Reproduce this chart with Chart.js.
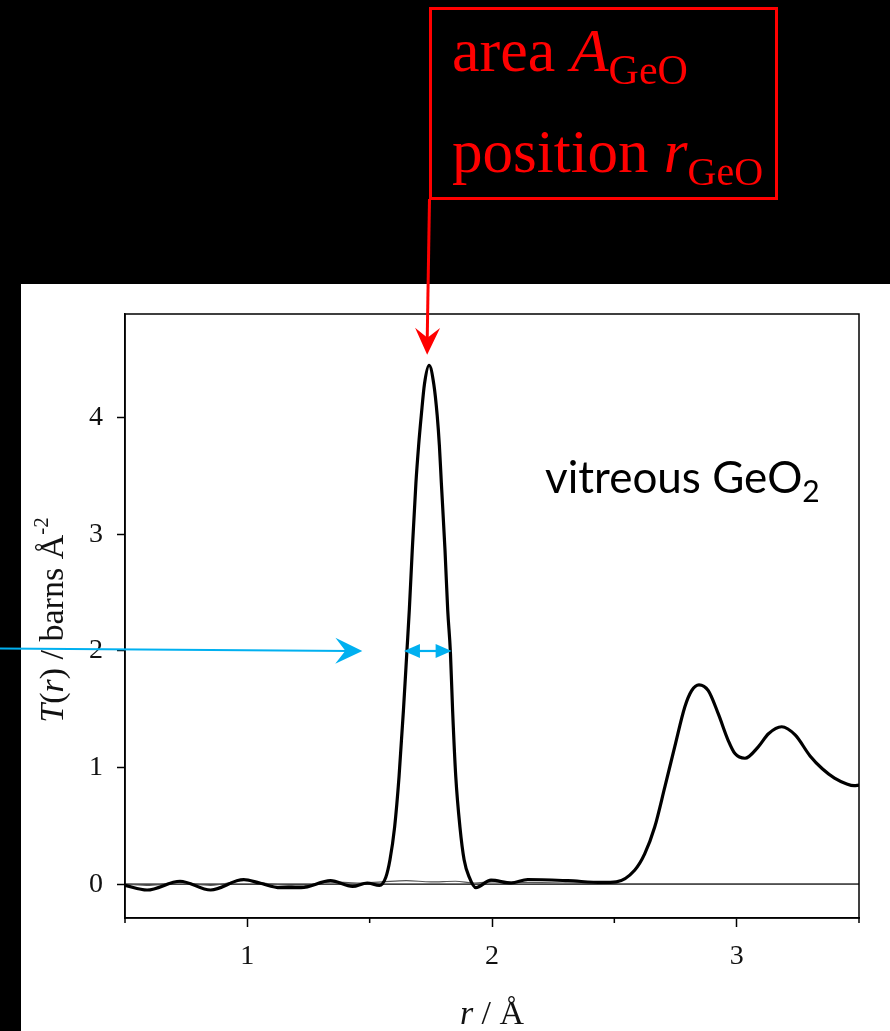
<!DOCTYPE html>
<html>
<head>
<meta charset="utf-8">
<script src="https://cdn.jsdelivr.net/npm/chart.js@4.4.1/dist/chart.umd.min.js"></script>
<style>
  html, body { margin: 0; padding: 0; background: #000; }
  #wrap { width: 890px; height: 1031px; }
</style>
</head>
<body>
<div id="wrap"><canvas id="tr" width="890" height="1031"></canvas></div>
<script>
// total correlation function T(r) of vitreous GeO2
const rMain = [0.50, 0.59, 0.725, 0.85, 0.985, 1.05, 1.135, 1.22, 1.34, 1.43, 1.49, 1.54,
  1.566, 1.583, 1.602, 1.620, 1.638, 1.652, 1.662, 1.674, 1.689, 1.700, 1.711, 1.724, 1.743,
  1.762, 1.776, 1.785, 1.793, 1.808, 1.819, 1.830, 1.839, 1.852, 1.869, 1.886, 1.907, 1.934,
  1.996, 2.078, 2.146, 2.31, 2.45, 2.508, 2.583, 2.624, 2.665, 2.706, 2.747, 2.788,
  2.816, 2.846, 2.884, 2.925, 2.966, 2.993, 3.034, 3.089, 3.130, 3.184, 3.239, 3.30,
  3.35, 3.40, 3.45, 3.48, 3.50];
const tMain = [-0.01, -0.05, 0.025, -0.05, 0.04, 0.01, -0.03, -0.03, 0.03, -0.02, 0.01, -0.01,
  0.06, 0.21, 0.49, 0.92, 1.49, 1.99, 2.35, 2.86, 3.44, 3.76, 4.02, 4.29, 4.45,
  4.29, 4.02, 3.76, 3.44, 2.86, 2.35, 1.99, 1.49, 0.92, 0.49, 0.21, 0.06, -0.03,
  0.035, 0.01, 0.04, 0.03, 0.015, 0.02, 0.12, 0.26, 0.49, 0.83, 1.18, 1.52,
  1.66, 1.71, 1.66, 1.46, 1.23, 1.12, 1.08, 1.18, 1.29, 1.35, 1.28, 1.10,
  0.99, 0.91, 0.86, 0.845, 0.85];

// fitted peak residual (thin line)
const rFit = [0.50, 0.60, 0.72, 0.85, 0.99, 1.10, 1.22, 1.34, 1.45, 1.55, 1.65, 1.75,
  1.85, 1.93, 2.00, 2.15, 2.30, 2.45, 2.60, 3.50];
const tFit = [0.0, -0.01, 0.015, -0.01, 0.03, 0.0, -0.015, 0.02, 0.01, 0.02, 0.03, 0.02,
  0.025, 0.01, 0.02, 0.015, 0.01, 0.005, 0.0, 0.0];

const rZero = [0.5, 3.5];
const tZero = [0, 0];

const xTicks = [1, 2, 3];
const xMinor = [0.5, 1.5, 2.5, 3.5];
const yTicks = [0, 1, 2, 3, 4];

// annotation anchors in data units
const arrowTip = { r: 1.735, t: 4.54 };
const widthLeft = 1.64, widthRight = 1.835, widthLevel = 2.0;
const pointerTip = { r: 1.47, t: 2.0 };

const SERIF = '"Liberation Serif", "Times New Roman", serif';
const SANS = 'Lato, "Open Sans", sans-serif';
const RED = '#ff0000';
const BLUE = '#00b0f0';

const toPoints = (xs, ys) => xs.map((x, i) => ({ x: x, y: ys[i] }));

function barbHead(ctx, x, y, angle, len, hw, notch) {
  ctx.save();
  ctx.translate(x, y);
  ctx.rotate(angle);
  ctx.beginPath();
  ctx.moveTo(0, 0);
  ctx.lineTo(-len, hw);
  ctx.lineTo(-len + notch, 0);
  ctx.lineTo(-len, -hw);
  ctx.closePath();
  ctx.fill();
  ctx.restore();
}

// draws runs of text with different styles, left to right from x
function drawRuns(ctx, runs, x, y) {
  runs.forEach(run => {
    ctx.font = run.font;
    ctx.fillText(run.text, x, y + (run.dy || 0));
    x += ctx.measureText(run.text).width;
  });
}
function runsWidth(ctx, runs) {
  let w = 0;
  runs.forEach(run => { ctx.font = run.font; w += ctx.measureText(run.text).width; });
  return w;
}

const backdrop = {
  id: 'backdrop',
  beforeDraw(chart) {
    const ctx = chart.ctx;
    ctx.save();
    ctx.fillStyle = '#000';
    ctx.fillRect(0, 0, chart.width, chart.height);
    ctx.fillStyle = '#fff';
    ctx.fillRect(21, 284, chart.width - 21, chart.height - 284);
    ctx.restore();
  }
};

const decorations = {
  id: 'decorations',
  afterDraw(chart) {
    const ctx = chart.ctx;
    const area = chart.chartArea;
    const xs = chart.scales.x, ys = chart.scales.y;
    ctx.save();

    // frame
    ctx.strokeStyle = '#000';
    ctx.lineWidth = 1.5;
    ctx.strokeRect(area.left, area.top, area.right - area.left, area.bottom - area.top);

    // minor ticks on r axis
    ctx.beginPath();
    xMinor.forEach(v => {
      const px = xs.getPixelForValue(v);
      ctx.moveTo(px, area.bottom);
      ctx.lineTo(px, area.bottom + 5);
    });
    ctx.stroke();

    // axis titles
    ctx.fillStyle = '#111';
    ctx.textBaseline = 'alphabetic';
    const yRuns = [
      { text: 'T', font: 'italic 34px ' + SERIF },
      { text: '(', font: '34px ' + SERIF },
      { text: 'r', font: 'italic 34px ' + SERIF },
      { text: ') / barns Å', font: '34px ' + SERIF },
      { text: '-2', font: '21px ' + SERIF, dy: -15 }
    ];
    const yw = runsWidth(ctx, yRuns);
    ctx.save();
    ctx.translate(63, (area.top + area.bottom) / 2 + 4);
    ctx.rotate(-Math.PI / 2);
    drawRuns(ctx, yRuns, -yw / 2, 0);
    ctx.restore();

    const xRuns = [
      { text: 'r', font: 'italic 34px ' + SERIF },
      { text: ' / Å', font: '34px ' + SERIF }
    ];
    const xw = runsWidth(ctx, xRuns);
    drawRuns(ctx, xRuns, (area.left + area.right) / 2 - xw / 2, 1024);

    // sample label
    ctx.fillStyle = '#000';
    drawRuns(ctx, [
      { text: 'vitreous GeO', font: '44px ' + SANS },
      { text: '2', font: '30px ' + SANS, dy: 9 }
    ], 545, 493);

    // blue markers: pointer and width arrow at T = 2
    ctx.strokeStyle = BLUE;
    ctx.fillStyle = BLUE;
    ctx.lineWidth = 2.2;
    const ptx = xs.getPixelForValue(pointerTip.r), pty = ys.getPixelForValue(pointerTip.t);
    ctx.beginPath();
    ctx.moveTo(0, pty - 2.5);
    ctx.lineTo(ptx - 12, pty);
    ctx.stroke();
    barbHead(ctx, ptx, pty, Math.atan2(2.5, ptx), 27, 13, 10);

    const wl = xs.getPixelForValue(widthLeft), wr = xs.getPixelForValue(widthRight);
    const wy = ys.getPixelForValue(widthLevel);
    ctx.beginPath();
    ctx.moveTo(wl + 10, wy);
    ctx.lineTo(wr - 10, wy);
    ctx.stroke();
    barbHead(ctx, wl, wy, Math.PI, 16, 7, 0);
    barbHead(ctx, wr, wy, 0, 16, 7, 0);

    // red callout box and arrow to the peak
    ctx.strokeStyle = RED;
    ctx.fillStyle = RED;
    ctx.lineWidth = 3;
    ctx.strokeRect(430.5, 8.5, 346, 190);
    const atx = xs.getPixelForValue(arrowTip.r), aty = ys.getPixelForValue(arrowTip.t);
    ctx.beginPath();
    ctx.moveTo(429.5, 199);
    ctx.lineTo(atx, aty - 12);
    ctx.stroke();
    barbHead(ctx, atx, aty, Math.atan2(aty - 199, atx - 429.5), 27, 12.5, 10);

    drawRuns(ctx, [
      { text: 'area ', font: '62px ' + SERIF },
      { text: 'A', font: 'italic 62px ' + SERIF },
      { text: 'GeO', font: '42px ' + SERIF, dy: 13 }
    ], 452, 71);
    drawRuns(ctx, [
      { text: 'position ', font: '61px ' + SERIF },
      { text: 'r', font: 'italic 61px ' + SERIF },
      { text: 'GeO', font: '40px ' + SERIF, dy: 13 }
    ], 452, 172);

    ctx.restore();
  }
};

new Chart(document.getElementById('tr'), {
  type: 'line',
  data: {
    datasets: [
      {
        label: 'T(r)',
        data: toPoints(rMain, tMain),
        borderColor: '#000',
        borderWidth: 3.2,
        cubicInterpolationMode: 'monotone',
        pointRadius: 0,
        order: 0
      },
      {
        label: 'residual',
        data: toPoints(rFit, tFit),
        borderColor: '#555',
        borderWidth: 1.2,
        cubicInterpolationMode: 'monotone',
        pointRadius: 0,
        order: 1
      },
      {
        label: 'zero',
        data: toPoints(rZero, tZero),
        borderColor: '#000',
        borderWidth: 1.3,
        pointRadius: 0,
        order: 2
      }
    ]
  },
  options: {
    responsive: false,
    animation: false,
    events: [],
    layout: { padding: { top: 314, right: 31, left: 0, bottom: 0 } },
    plugins: {
      legend: { display: false },
      tooltip: { enabled: false }
    },
    scales: {
      x: {
        type: 'linear',
        min: 0.5,
        max: 3.5,
        afterBuildTicks: s => { s.ticks = xTicks.map(v => ({ value: v })); },
        afterFit: s => { s.height = 113; },
        grid: { drawOnChartArea: false, tickLength: 9, color: '#000', tickWidth: 1.5 },
        border: { color: '#000', width: 1.5 },
        ticks: {
          color: '#111',
          padding: 13,
          maxRotation: 0,
          font: { family: SERIF, size: 28 }
        }
      },
      y: {
        type: 'linear',
        min: -0.29,
        max: 4.89,
        afterBuildTicks: s => { s.ticks = yTicks.map(v => ({ value: v })); },
        afterFit: s => { s.width = 125; },
        grid: { drawOnChartArea: false, tickLength: 8, color: '#000', tickWidth: 1.5 },
        border: { color: '#000', width: 1.5 },
        ticks: {
          color: '#111',
          padding: 14,
          font: { family: SERIF, size: 28 }
        }
      }
    }
  },
  plugins: [backdrop, decorations]
});
</script>
</body>
</html>
